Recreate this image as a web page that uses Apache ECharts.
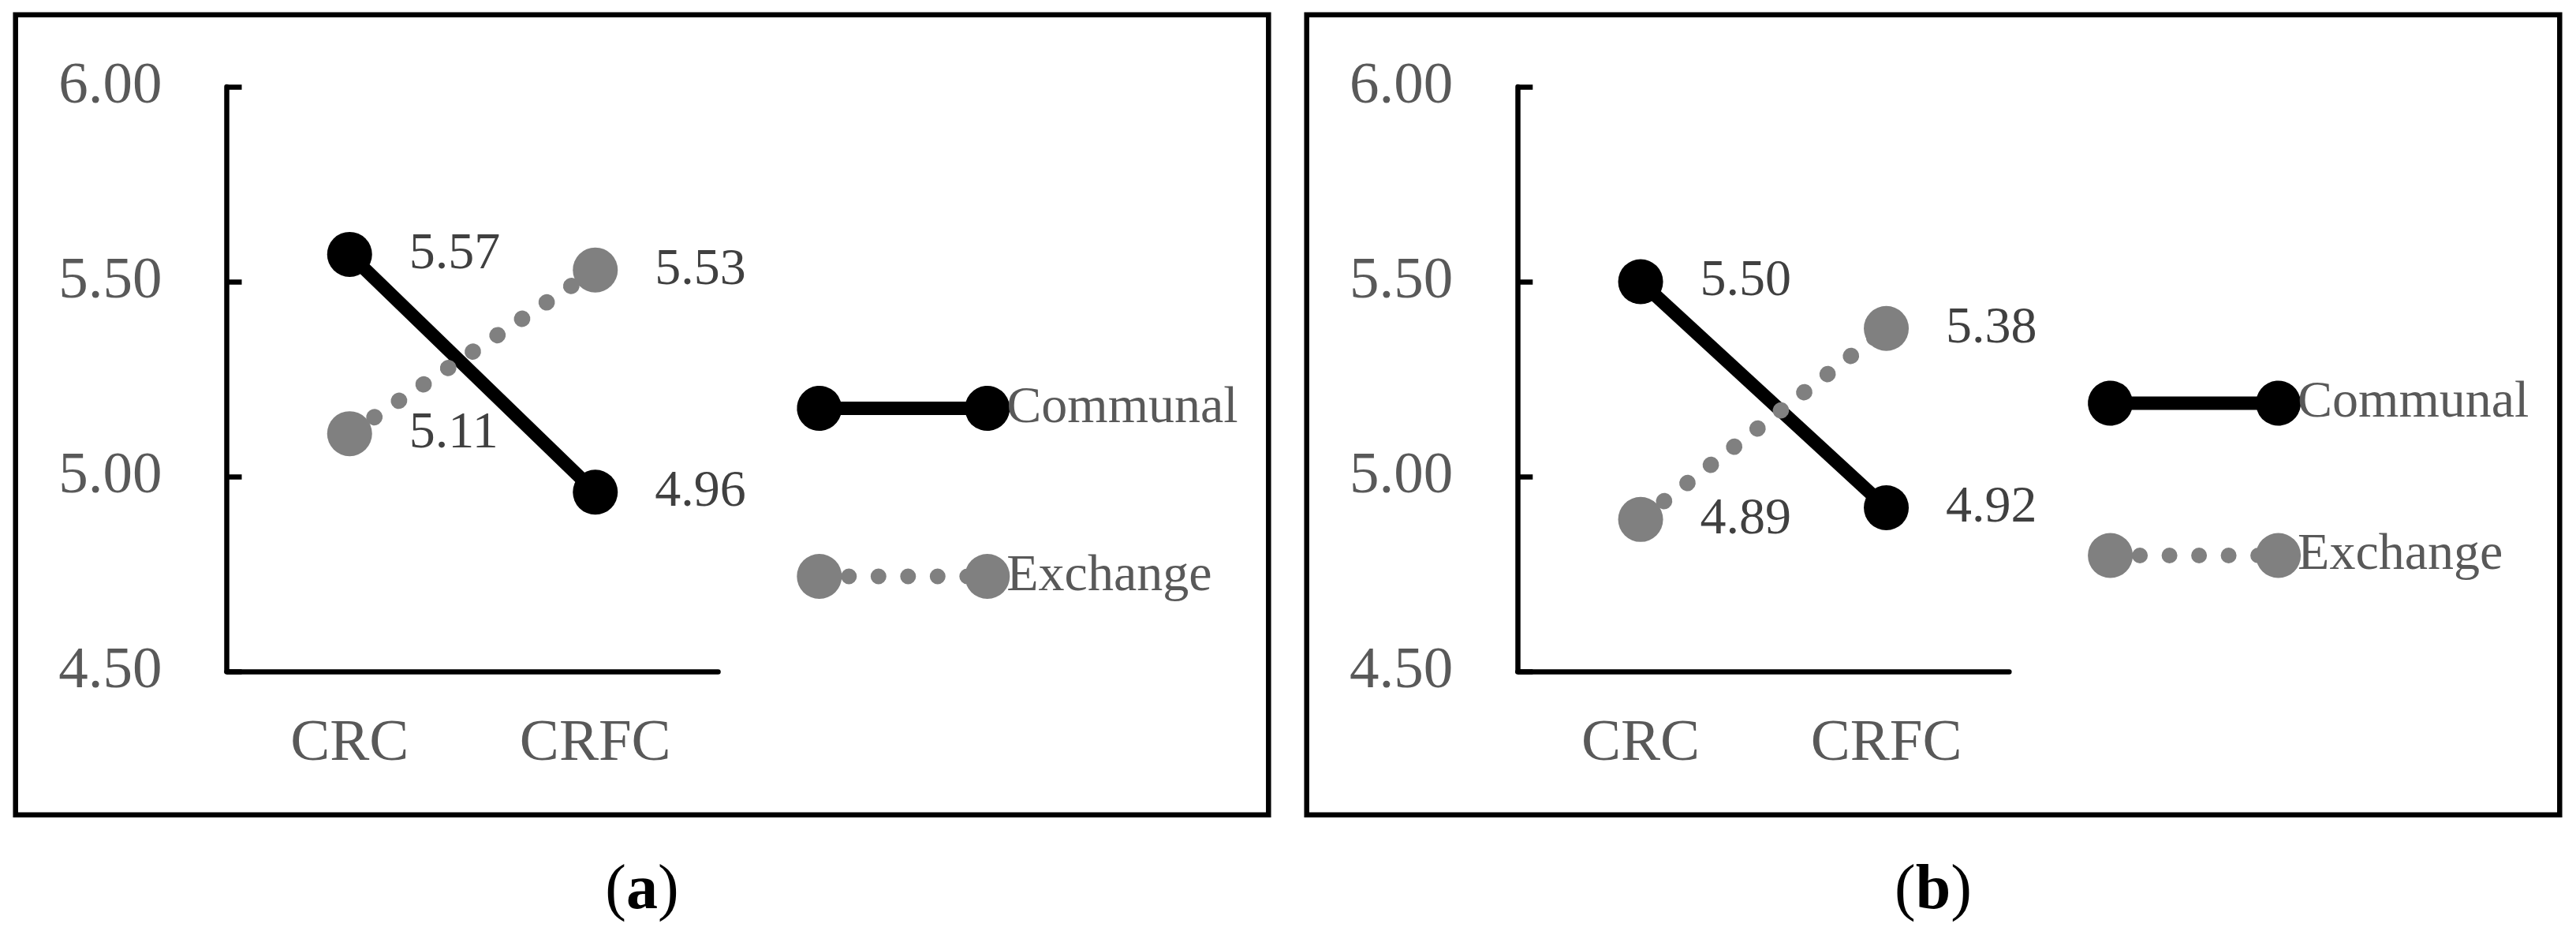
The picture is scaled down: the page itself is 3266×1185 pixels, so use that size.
<!DOCTYPE html>
<html><head><meta charset="utf-8">
<script src="https://cdn.jsdelivr.net/npm/echarts@6/dist/echarts.min.js"></script>
<style>html,body{margin:0;padding:0;background:#fff}#c{width:3266px;height:1185px}</style>
</head><body><div id="c"></div>
<script>
const categories = ['CRC', 'CRFC'];
const seriesNames = ['Communal', 'Exchange'];
const communalA = [5.57, 4.96];
const exchangeA = [5.11, 5.53];
const communalB = [5.50, 4.92];
const exchangeB = [4.89, 5.38];
const yTickValues = [4.5, 5.0, 5.5, 6.0];
const yTickLabels = ['4.50', '5.00', '5.50', '6.00'];
const panelCaptions = ['a', 'b'];

const FONT = "'Liberation Serif','Times New Roman',serif";

const ICON_C = 'path://M55.7 20 L214.3 20 A28.5 28.5 0 1 1 214.3 37 L55.7 37 A28.5 28.5 0 1 1 55.7 20 Z';
function circ(cx, cy, r) {
  return 'M' + (cx - r) + ' ' + cy + ' A' + r + ' ' + r + ' 0 1 1 ' + (cx + r) + ' ' + cy +
         ' A' + r + ' ' + r + ' 0 1 1 ' + (cx - r) + ' ' + cy + ' Z ';
}
const ICON_E = 'path://' + circ(28.5, 28.5, 28.5) + circ(66, 28.5, 10) + circ(103.5, 28.5, 10) +
  circ(141, 28.5, 10) + circ(178.5, 28.5, 10) + circ(216, 28.5, 10) + circ(241.5, 28.5, 28.5);

const panels = [
  { grid: 287.5, frame: 19.7, legendLeft: 1010.3, legendTop: 484.5, legendGap: 147, cap: 814, comm: communalA, exch: exchangeA },
  { grid: 1924.3, frame: 1656.7, legendLeft: 2647.1, legendTop: 478, legendGap: 127, cap: 2451, comm: communalB, exch: exchangeB }
];

const labelCfg = {
  show: true, position: 'right', distance: 47, color: '#404040',
  fontFamily: FONT, fontSize: 66, formatter: p => p.value.toFixed(2)
};

const option = {
  animation: false,
  backgroundColor: '#ffffff',
  grid: panels.map(p => ({ left: p.grid, top: 110, width: 623, height: 741 })),
  xAxis: panels.map((p, i) => ({
    type: 'category', gridIndex: i, data: categories, boundaryGap: true,
    axisLine: { show: true, lineStyle: { color: '#000', width: 6.5 } },
    axisTick: { show: false },
    splitLine: { show: false },
    axisLabel: { margin: 55, color: '#595959', fontFamily: FONT, fontSize: 75, lineHeight: 74 }
  })),
  yAxis: panels.map((p, i) => ({
    type: 'value', gridIndex: i, min: 4.5, max: 6, interval: 0.5,
    axisLine: { show: true, lineStyle: { color: '#000', width: 6.5 } },
    axisTick: { show: true, inside: true, length: 19, lineStyle: { color: '#000', width: 6.5 } },
    splitLine: { show: false },
    axisLabel: {
      margin: 82, color: '#595959', fontFamily: FONT, fontSize: 75,
      formatter: v => { const k = yTickValues.findIndex(t => Math.abs(t - v) < 1e-9); return k >= 0 ? yTickLabels[k] : v.toFixed(2); }
    }
  })),
  legend: panels.map(p => ({
    show: true, orient: 'vertical', left: p.legendLeft, top: p.legendTop, itemGap: p.legendGap,
    itemWidth: 270, itemHeight: 57, padding: 0, selectedMode: false,
    data: [{ name: seriesNames[0], icon: ICON_C }, { name: seriesNames[1], icon: ICON_E }],
    itemStyle: { borderWidth: 0 },
    textStyle: { color: '#595959', fontFamily: FONT, fontSize: 66, lineHeight: 57, padding: [0, 0, 0, -9] }
  })),
  series: [],
  graphic: []
};

panels.forEach((p, i) => {
  option.series.push({
    type: 'line', name: seriesNames[0], xAxisIndex: i, yAxisIndex: i, data: p.comm,
    symbol: 'circle', symbolSize: 57, showSymbol: true,
    lineStyle: { color: '#000000', width: 17 },
    itemStyle: { color: '#000000', borderWidth: 0 },
    label: labelCfg, emphasis: { disabled: true }
  });
  option.series.push({
    type: 'line', name: seriesNames[1], xAxisIndex: i, yAxisIndex: i, data: p.exch,
    symbol: 'circle', symbolSize: 57, showSymbol: true,
    lineStyle: { color: '#808080', width: 20.5, type: [0.5, 37], cap: 'round' },
    itemStyle: { color: '#808080', borderWidth: 0 },
    label: labelCfg, emphasis: { disabled: true }
  });
  option.graphic.push({
    type: 'rect', shape: { x: p.frame, y: 18.7, width: 1588.6, height: 1014 },
    style: { fill: 'none', stroke: '#000', lineWidth: 6.5 }, silent: true
  });
  option.graphic.push({
    type: 'text', x: p.cap, y: 1130, silent: true,
    style: {
      text: '({b|' + panelCaptions[i] + '})', fontSize: 80, fontFamily: FONT, fill: '#000',
      align: 'center', verticalAlign: 'middle',
      rich: { b: { fontWeight: 'bold', fontSize: 80, fontFamily: FONT, fill: '#000' } }
    }
  });
});

const chart = echarts.init(document.getElementById('c'), null, { renderer: 'canvas' });
chart.setOption(option);
</script>
</body></html>
